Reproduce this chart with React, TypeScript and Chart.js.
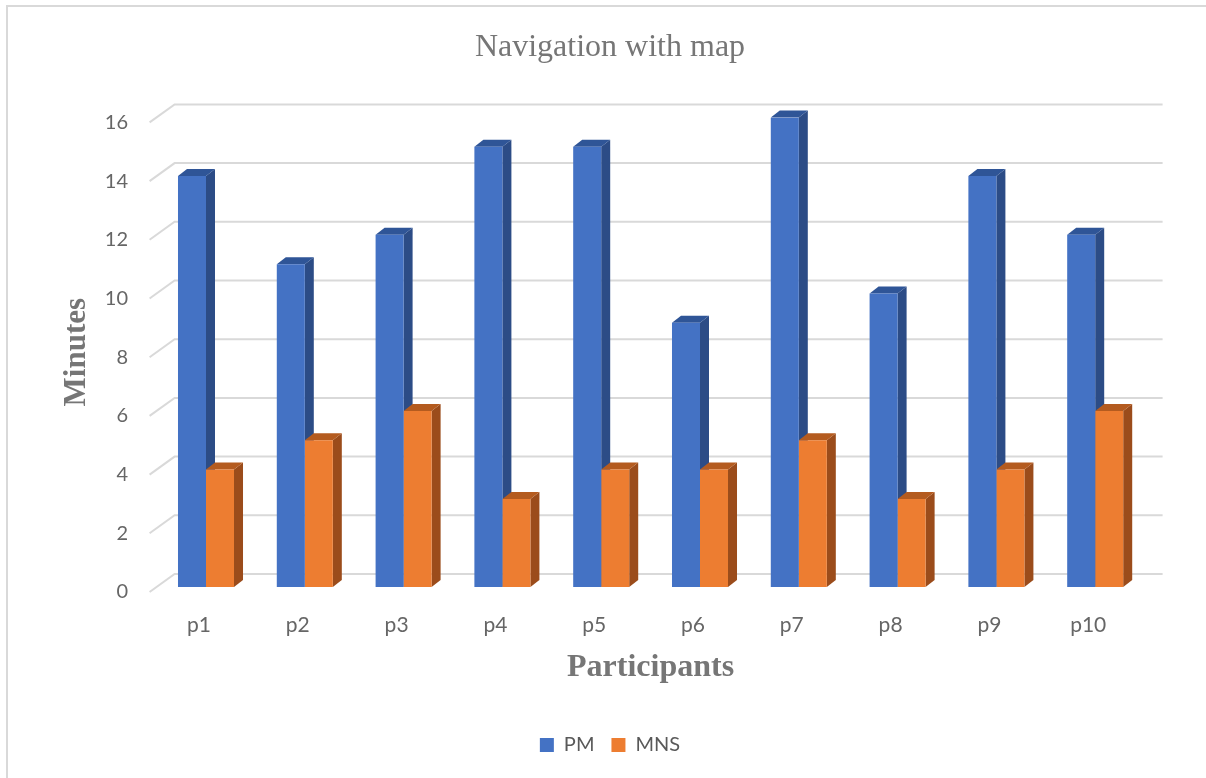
import { useEffect, useRef } from "react";
import { Chart, registerables } from "chart.js";

Chart.register(...registerables);

// Data
const participants = ["p1", "p2", "p3", "p4", "p5", "p6", "p7", "p8", "p9", "p10"];
const pmMinutes = [14, 11, 12, 15, 15, 9, 16, 10, 14, 12];
const mnsMinutes = [4, 5, 6, 3, 4, 4, 5, 3, 4, 6];
const seriesNames = ["PM", "MNS"];
const yMax = 16;
const yStep = 2;

// Styling
const frontColors = ["#4472C4", "#ED7D31"];
const sideColors = ["#2C4C86", "#9B4C1B"];
const topColors = ["#2F5597", "#B45B1F"];
const SERIF = "'Liberation Serif', 'Times New Roman', serif";
const SANS = "Lato, 'Liberation Sans', sans-serif";
const TICK_COLOR = "#666666";
const TITLE_COLOR = "#767676";
const GRID_COLOR = "#d9d9d9";

// 3D projection offsets (px)
const BAR_DX = 9;
const BAR_DY = -7;
const FLOOR_FRONT_DX = -7; // floor front edge relative to bar front faces
const FLOOR_FRONT_DY = 5;
const WALL_DX = 25;
const WALL_DY = -18;

const depthPlugin = {
  id: "depth3d",
  beforeDraw(chart: any) {
    const { ctx } = chart;
    ctx.save();
    ctx.fillStyle = "#ffffff";
    ctx.fillRect(0, 0, chart.width, chart.height);
    // outer frame (top and left edges)
    ctx.fillStyle = GRID_COLOR;
    ctx.fillRect(6, 5, chart.width - 6, 2);
    ctx.fillRect(6, 5, 2, chart.height - 5);
    ctx.restore();
  },
  beforeDatasetsDraw(chart: any) {
    const { ctx, chartArea } = chart;
    const yScale = chart.scales.y;
    ctx.save();
    // back-wall gridlines with floor-side diagonals
    ctx.strokeStyle = GRID_COLOR;
    ctx.lineWidth = 2;
    for (const t of yScale.ticks) {
      const y = yScale.getPixelForValue(t.value);
      const fx = chartArea.left + FLOOR_FRONT_DX;
      const fy = y + FLOOR_FRONT_DY;
      const bx = fx + WALL_DX;
      const by = fy + WALL_DY;
      const ex = chartArea.right + FLOOR_FRONT_DX + WALL_DX;
      ctx.beginPath();
      ctx.moveTo(fx, fy);
      ctx.lineTo(bx, by);
      ctx.lineTo(ex, by);
      ctx.stroke();
    }
    // side and top faces of each bar; front faces are drawn by the bar controller
    const n = chart.data.labels.length;
    for (let i = 0; i < n; i++) {
      chart.data.datasets.forEach((_: any, d: number) => {
        const meta = chart.getDatasetMeta(d);
        const bar = meta.data[i];
        if (!bar) return;
        const p = bar.getProps(["x", "y", "base", "width"], true);
        const left = p.x - p.width / 2;
        const right = p.x + p.width / 2;
        const top = Math.min(p.y, p.base);
        const bottom = Math.max(p.y, p.base);
        ctx.fillStyle = sideColors[d];
        ctx.beginPath();
        ctx.moveTo(right, top);
        ctx.lineTo(right + BAR_DX, top + BAR_DY);
        ctx.lineTo(right + BAR_DX, bottom + BAR_DY);
        ctx.lineTo(right, bottom);
        ctx.closePath();
        ctx.fill();
        ctx.fillStyle = topColors[d];
        ctx.beginPath();
        ctx.moveTo(left, top);
        ctx.lineTo(left + BAR_DX, top + BAR_DY);
        ctx.lineTo(right + BAR_DX, top + BAR_DY);
        ctx.lineTo(right, top);
        ctx.closePath();
        ctx.fill();
      });
    }
    ctx.restore();
  },
};

export default function App() {
  const canvasRef = useRef<HTMLCanvasElement | null>(null);

  useEffect(() => {
    const canvas = canvasRef.current;
    if (!canvas) return;
    const chart = new Chart(canvas, {
      type: "bar",
      data: {
        labels: participants,
        datasets: [
          {
            label: seriesNames[0],
            data: pmMinutes,
            backgroundColor: frontColors[0],
            borderWidth: 0,
            barPercentage: 1,
            categoryPercentage: 0.567,
          },
          {
            label: seriesNames[1],
            data: mnsMinutes,
            backgroundColor: frontColors[1],
            borderWidth: 0,
            barPercentage: 1,
            categoryPercentage: 0.567,
          },
        ],
      },
      options: {
        responsive: true,
        maintainAspectRatio: false,
        animation: false,
        layout: { padding: { left: 14, right: 0, top: 0, bottom: 13 } },
        plugins: {
          title: {
            display: true,
            text: "Navigation with map",
            color: TITLE_COLOR,
            font: { family: SERIF, size: 32, weight: "normal" },
            padding: { top: 28, bottom: 51 },
          },
          legend: {
            position: "bottom",
            labels: {
              boxWidth: 14,
              boxHeight: 14,
              color: "#595959",
              font: { family: SANS, size: 20 },
              padding: 17,
            },
          },
          tooltip: { enabled: false },
        },
        scales: {
          x: {
            grid: { display: false, drawTicks: false },
            border: { display: false },
            ticks: {
              labelOffset: FLOOR_FRONT_DX,
              padding: 26,
              color: TICK_COLOR,
              font: { family: SANS, size: 21 },
            },
            title: {
              display: true,
              text: "Participants",
              color: TITLE_COLOR,
              font: { family: SERIF, size: 32, weight: "bold" },
              padding: { top: 0, bottom: 31 },
            },
            afterFit: (s: any) => {
              s.height = 131;
            },
          },
          y: {
            min: 0,
            max: yMax,
            grid: { display: false, drawTicks: false },
            border: { display: false },
            ticks: {
              stepSize: yStep,
              labelOffset: FLOOR_FRONT_DY,
              padding: 28.6,
              color: TICK_COLOR,
              font: { family: SANS, size: 20 },
            },
            title: {
              display: true,
              text: "Minutes",
              color: TITLE_COLOR,
              font: { family: SERIF, size: 31, weight: "bold" },
              padding: { top: 44, bottom: 0 },
            },
            afterFit: (s: any) => {
              s.width = 142.6;
            },
          },
          depthRight: {
            position: "right",
            display: true,
            grid: { display: false, drawTicks: false },
            border: { display: false },
            ticks: { display: false },
            afterFit: (s: any) => {
              s.width = 61.4;
            },
          },
        },
      },
      plugins: [depthPlugin],
    });
    return () => chart.destroy();
  }, []);

  return (
    <div
      style={{
        position: "absolute",
        left: 0,
        top: 0,
        width: 1206,
        height: 778,
        background: "#ffffff",
      }}
    >
      <canvas ref={canvasRef} />
    </div>
  );
}
